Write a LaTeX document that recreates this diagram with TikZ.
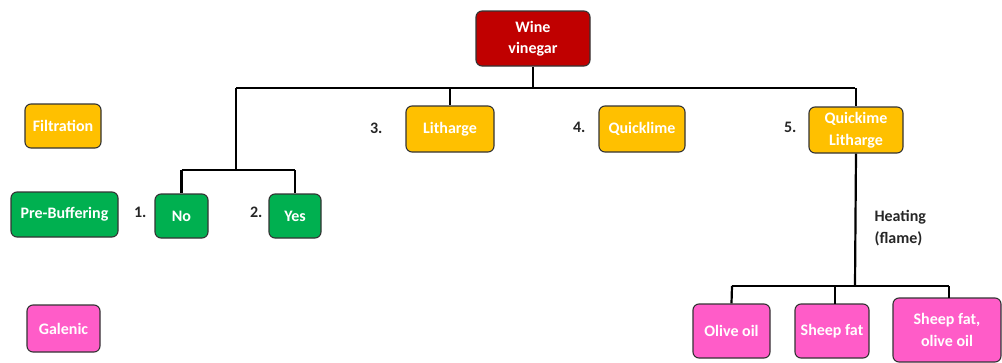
\documentclass[tikz,border=0pt]{standalone}
\usepackage{fontspec}
\setmainfont{Carlito}
\definecolor{wred}{HTML}{C00000}
\definecolor{wyel}{HTML}{FFC000}
\definecolor{wgrn}{HTML}{00B050}
\definecolor{wpnk}{HTML}{FF5CC8}
\begin{document}
\begin{tikzpicture}[x=1pt,y=-1pt,
  box/.style={draw=black!80, line width=1.1pt, rounded corners=6pt, minimum width=#1, align=center, text=white, font=\fontsize{16}{21.5}\selectfont\bfseries, inner sep=0pt},
  redbox/.style={box=#1, fill=wred, minimum height=55},
  yelbox/.style={box=#1, fill=wyel, minimum height=46},
  grnbox/.style={box=#1, fill=wgrn, minimum height=44},
  pnkbox/.style={box=#1, fill=wpnk, minimum height=54},
  lab/.style={font=\fontsize{16}{22}\selectfont\bfseries, text=black!85, align=left},
  conn/.style={line width=2.2pt, black}]
\useasboundingbox (0,0) rectangle (1002,362);
\node[redbox=114] (wine) at (533,38.5) {Wine\\vinegar};
\node[yelbox=76, minimum height=44] (filt) at (63,126) {Filtration};
\node[grnbox=107, minimum height=45] (pre) at (64.5,214.5) {Pre-Buffering};
\node[pnkbox=73, minimum height=47] (gal) at (63.5,328.5) {Galenic};
\node[grnbox=53] (no) at (181.5,216) {No};
\node[grnbox=52] (yes) at (295,216) {Yes};
\node[yelbox=88] (lith) at (450,129) {Litharge};
\node[yelbox=86] (quick) at (642,129) {Quicklime};
\node[yelbox=94] (ql) at (856,130) {Quickime\\Litharge};
\node[pnkbox=77] (olive) at (731.5,331) {Olive oil};
\node[pnkbox=74] (sheep) at (832,331) {Sheep fat};
\node[pnkbox=108, minimum height=64] (both) at (947,330) {Sheep fat,\\olive oil};
\node[lab, anchor=east] (n1) at (150,212) {1.};
\node[lab, anchor=east] (n2) at (266,212) {2.};
\node[lab, anchor=east] (n3) at (386,128) {3.};
\node[lab, anchor=east] (n4) at (589,127) {4.};
\node[lab, anchor=east] (n5) at (800,127) {5.};
\node[lab, anchor=west] (heat) at (871,228) {Heating\\(flame)};
\coordinate (top) at (533,88);
\coordinate (bot) at (855,286);
\draw[conn] (wine.south) -- (top);
\draw[conn] (236,88) -- (855,88);
\draw[conn] (236,88) -- (236,170);
\draw[conn] (181.5,170) -- (295,170);
\draw[conn] (181.5,170) -- (no.north);
\draw[conn] (295,170) -- (yes.north);
\draw[conn] (450,88) -- (lith.north);
\draw[conn] (856,88) -- (ql.north);
\draw[conn] (ql.south) -- (bot);
\draw[conn] (732,286) -- (949,286);
\draw[conn] (732,286) -- (olive.north);
\draw[conn] (835,286) -- (835,304);
\draw[conn] (949,286) -- (949,298);
\end{tikzpicture}
\end{document}
